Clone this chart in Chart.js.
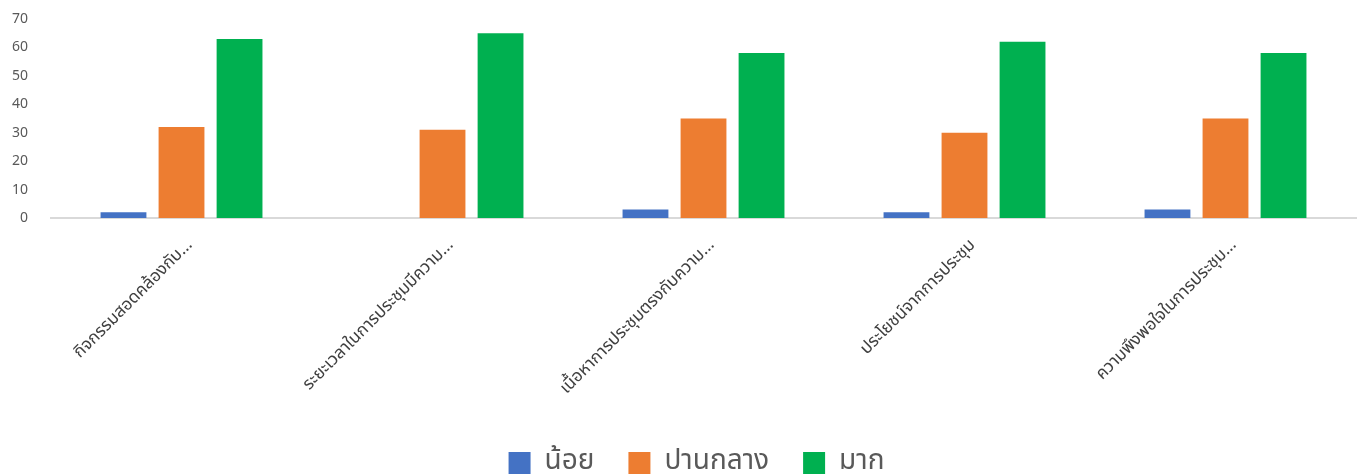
<!DOCTYPE html>
<html>
<head>
<meta charset="utf-8">
<script src="https://cdn.jsdelivr.net/npm/chart.js@4.4.1/dist/chart.umd.min.js"></script>
<style>
  html, body { margin: 0; padding: 0; background: #fff; overflow: hidden; }
  #wrap { width: 1364px; height: 487px; position: relative; }
</style>
</head>
<body>
<div id="wrap"><canvas id="chart"></canvas></div>
<script>
// categories (truncated as in the source picture)
const categories = [
  'กิจกรรมสอดคล้องกับ...',
  'ระยะเวลาในการประชุมมีความ...',
  'เนื้อหาการประชุมตรงกับความ...',
  'ประโยชน์จากการประชุม',
  'ความพึงพอใจในการประชุม...'
];

// series
const seriesNames = ['น้อย', 'ปานกลาง', 'มาก'];
const lowValues = [2, 0, 3, 2, 3];
const midValues = [32, 31, 35, 30, 35];
const highValues = [63, 65, 58, 62, 58];

const yTicks = [0, 10, 20, 30, 40, 50, 60, 70];

const colors = ['#4472c4', '#ed7d31', '#00b050'];

const data = {
  labels: categories,
  datasets: [lowValues, midValues, highValues].map((vals, i) => ({
    label: seriesNames[i],
    data: vals,
    backgroundColor: colors[i],
    borderWidth: 0,
    categoryPercentage: 0.667,
    barPercentage: 0.79
  }))
};

// nudge the legend a little to the left, like the original
const legendShift = {
  id: 'legendShift',
  afterLayout(chart) {
    if (chart.legend) {
      chart.legend.left -= 7;
      chart.legend.right -= 7;
    }
  }
};

const config = {
  type: 'bar',
  data: data,
  plugins: [legendShift],
  options: {
    responsive: true,
    maintainAspectRatio: false,
    animation: false,
    layout: {
      padding: { left: -11, right: 8, top: 19, bottom: 0 }
    },
    plugins: {
      tooltip: { enabled: false },
      legend: {
        position: 'bottom',
        fullSize: false,
        labels: {
          color: '#595959',
          font: { family: 'Tahoma, "Noto Sans Thai", "Noto Sans", sans-serif', size: 28 },
          boxWidth: 22,
          boxHeight: 22,
          padding: 34
        }
      }
    },
    scales: {
      x: {
        grid: { display: false, drawTicks: false },
        border: { display: true, color: '#d9d9d9', width: 2 },
        ticks: {
          color: '#404040',
          font: { family: 'Tahoma, "Noto Sans Thai", "Noto Sans", sans-serif', size: 17 },
          maxRotation: 45,
          minRotation: 45,
          autoSkip: false,
          labelOffset: 9,
          padding: 18
        },
        afterFit(scale) {
          scale.height = 197;
        }
      },
      y: {
        min: 0,
        max: 70,
        afterBuildTicks(scale) { scale.ticks = yTicks.map(v => ({ value: v })); },
        afterFit(scale) {
          scale.paddingTop = 0;
          scale.paddingBottom = 0;
        },
        grid: { display: false, drawTicks: false },
        border: { display: false },
        ticks: {
          color: '#595959',
          font: { family: '"Noto Sans", sans-serif', size: 14 },
          padding: 23
        }
      }
    }
  }
};

const myChart = new Chart(document.getElementById('chart'), config);
</script>
</body>
</html>
